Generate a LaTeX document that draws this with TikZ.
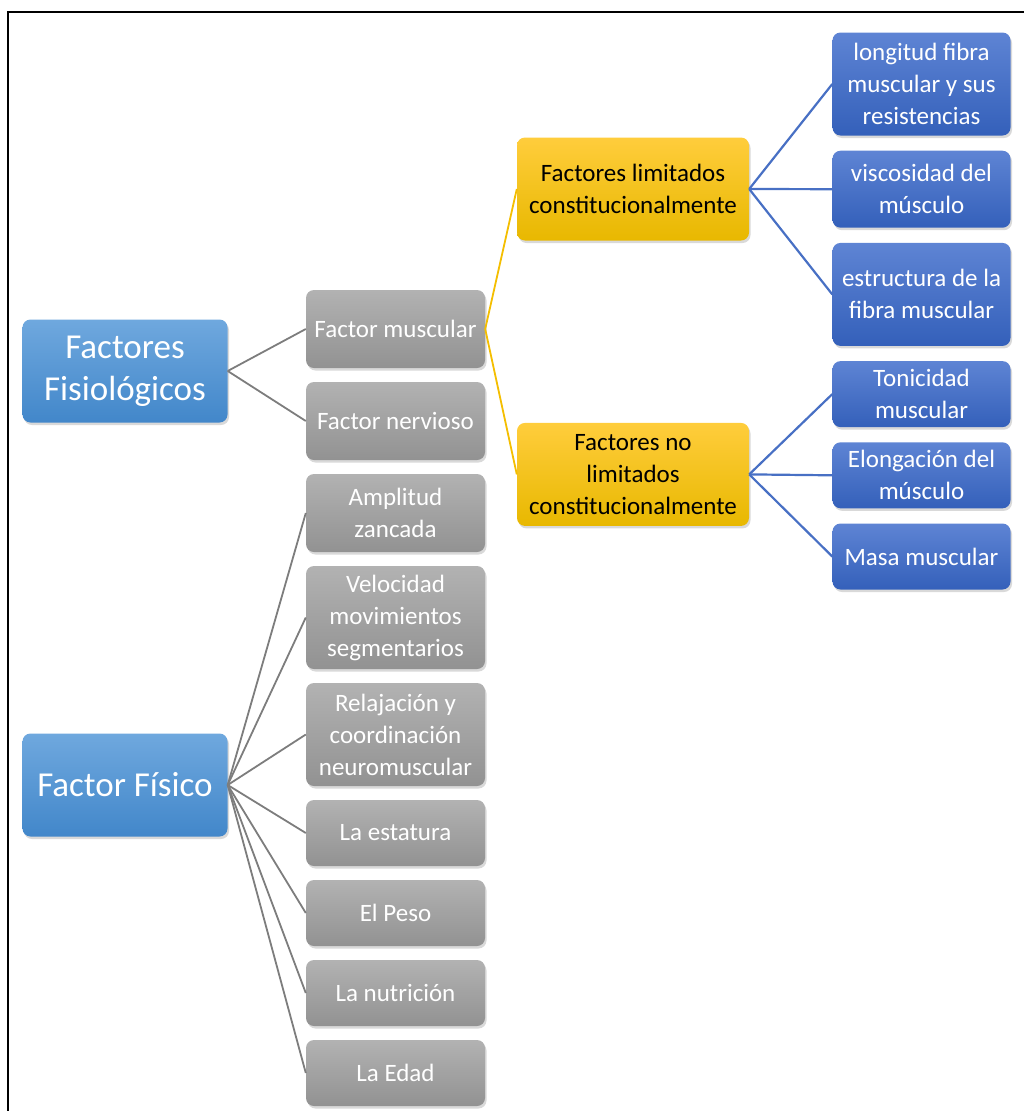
\documentclass[tikz,border=0pt]{standalone}
\usepackage{fontspec}
\setmainfont{Carlito}
\usepackage{xcolor}
\usetikzlibrary{positioning,shadows}

\definecolor{rootT}{RGB}{111,168,222}
\definecolor{rootB}{RGB}{66,135,202}
\definecolor{greyT}{RGB}{178,178,178}
\definecolor{greyB}{RGB}{146,146,146}
\definecolor{yelT}{RGB}{255,205,60}
\definecolor{yelB}{RGB}{232,184,0}
\definecolor{leafT}{RGB}{94,132,212}
\definecolor{leafB}{RGB}{52,96,186}
\definecolor{greyline}{RGB}{125,125,125}
\definecolor{yelline}{RGB}{244,190,0}
\definecolor{blueline}{RGB}{72,112,196}

\begin{document}
\begin{tikzpicture}[
  x=1pt,y=-1pt,
  node distance=13.6pt,
  base/.style={rounded corners=8pt,align=center,inner sep=4pt,
    drop shadow={opacity=0.3,shadow xshift=1.5pt,shadow yshift=-2.5pt}},
  root/.style={base,top color=rootT,bottom color=rootB,text=white,
    font=\fontsize{35}{42}\selectfont,minimum width=205pt,minimum height=103pt},
  sub/.style={base,top color=greyT,bottom color=greyB,text=white,
    font=\fontsize{25}{32}\selectfont,minimum width=179pt},
  yel/.style={base,top color=yelT,bottom color=yelB,text=black,
    font=\fontsize{25}{32}\selectfont,minimum width=232pt,minimum height=103pt},
  leaf/.style={base,top color=leafT,bottom color=leafB,text=white,
    font=\fontsize{25}{32}\selectfont,minimum width=178pt},
  glink/.style={draw=greyline,line width=1.8pt},
  ylink/.style={draw=yelline,line width=1.8pt},
  blink/.style={draw=blueline,line width=2.2pt}
]
  \useasboundingbox (0,0) rectangle (1024,1111);
  \draw[line width=2.5pt] (8,1120) -- (8,12) -- (1035,12);

  \node[root] (fisio) at (125,371) {Factores\\Fisiológicos};
  \node[root] (fisico) at (125,785) {Factor Físico};

  \node[sub, minimum height=78pt] (muscular) at (395.5,329) {Factor muscular};
  \node[sub, minimum height=78pt, below=of muscular] (nervioso) {Factor nervioso};
  \node[sub, minimum height=78pt, below=of nervioso] (amplitud) {Amplitud\\zancada};
  \node[sub, minimum height=103pt, below=of amplitud] (velocidad) {Velocidad\\movimientos\\segmentarios};
  \node[sub, minimum height=103pt, below=of velocidad] (relajacion) {Relajación y\\coordinación\\neuromuscular};
  \node[sub, minimum height=66pt, below=of relajacion] (estatura) {La estatura};
  \node[sub, minimum height=66pt, below=of estatura] (peso) {El Peso};
  \node[sub, minimum height=66pt, below=of peso] (nutricion) {La nutrición};
  \node[sub, minimum height=66pt, below=of nutricion] (edad) {La Edad};

  \node[yel] (lim) at (633,189) {Factores limitados\\constitucionalmente};
  \node[yel, below=182pt of lim] (nolim) {Factores no\\limitados\\constitucionalmente};

  \node[leaf, minimum height=103pt] (longitud) at (921.5,84) {longitud fibra\\muscular y sus\\resistencias};
  \node[leaf, minimum height=77pt, below=14.8pt of longitud] (viscosidad) {viscosidad del\\músculo};
  \node[leaf, minimum height=103pt, below=14.8pt of viscosidad] (estructura) {estructura de la\\fibra muscular};
  \node[leaf, minimum height=66pt, below=14.8pt of estructura] (tonicidad) {Tonicidad\\muscular};
  \node[leaf, minimum height=66pt, below=14.8pt of tonicidad] (elongacion) {Elongación del\\músculo};
  \node[leaf, minimum height=66pt, below=14.8pt of elongacion] (masa) {Masa muscular};

  \draw[glink] (fisio.east) -- (muscular.west);
  \draw[glink] (fisio.east) -- (nervioso.west);
  \draw[glink] (fisico.east) -- (amplitud.west);
  \draw[glink] (fisico.east) -- (velocidad.west);
  \draw[glink] (fisico.east) -- (relajacion.west);
  \draw[glink] (fisico.east) -- (estatura.west);
  \draw[glink] (fisico.east) -- (peso.west);
  \draw[glink] (fisico.east) -- (nutricion.west);
  \draw[glink] (fisico.east) -- (edad.west);
  \draw[ylink] (muscular.east) -- (lim.west);
  \draw[ylink] (muscular.east) -- (nolim.west);
  \draw[blink] (lim.east) -- (longitud.west);
  \draw[blink] (lim.east) -- (viscosidad.west);
  \draw[blink] (lim.east) -- (estructura.west);
  \draw[blink] (nolim.east) -- (tonicidad.west);
  \draw[blink] (nolim.east) -- (elongacion.west);
  \draw[blink] (nolim.east) -- (masa.west);
\end{tikzpicture}
\end{document}
